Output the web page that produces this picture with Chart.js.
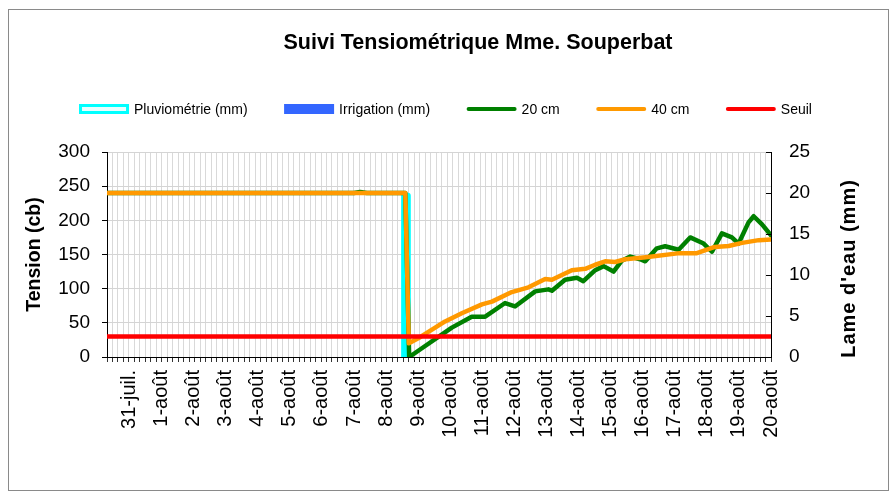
<!DOCTYPE html>
<html>
<head>
<meta charset="utf-8">
<script src="https://cdn.jsdelivr.net/npm/chart.js@4.4.1/dist/chart.umd.min.js"></script>
<style>
html,body{margin:0;padding:0;background:#fff;}
#wrap{width:895px;height:492px;position:relative;}
</style>
</head>
<body>
<div id="wrap"><canvas id="c"></canvas></div>
<script>
// ---------- data ----------
const chartTitle = 'Suivi Tensiométrique Mme. Souperbat';
const xLabels = ['31-juil.','1-août','2-août','3-août','4-août','5-août','6-août','7-août','8-août','9-août',
  '10-août','11-août','12-août','13-août','14-août','15-août','16-août','17-août','18-août','19-août','20-août'];
const xMinDay = -0.7;   // days relative to 31-juil.
const xMaxDay = 20;

const pluvioDays = [8.48];
const pluvioMm   = [20];

const irrigDays = [];
const irrigMm   = [];

const green20Days = [-0.7, 7.0, 7.19, 7.4, 8.6, 8.72, 9.06, 10.05, 10.67, 11.09, 11.71, 12.02, 12.65, 13.06, 13.17,
  13.58, 13.95, 14.15, 14.52, 14.78, 15.09, 15.35, 15.61, 15.92, 16.08, 16.44, 16.70, 17.12, 17.48, 17.90, 18.16,
  18.47, 18.78, 18.99, 19.30, 19.46, 19.72, 20.0];
const green20 = [240, 240, 241.5, 240, 240, 0, 11, 43, 59, 59, 79, 74, 96, 99, 97,
  113, 116, 111, 127, 133, 125, 141, 147, 143, 140, 159, 162, 157, 175, 166, 154,
  181, 175, 166, 197, 206, 194, 178];

const orange40Days = [-0.7, 8.6, 8.71, 9.06, 9.84, 10.36, 10.99, 11.30, 11.92, 12.44, 12.96, 13.17, 13.79, 14.21,
  14.52, 14.83, 15.14, 15.46, 16.10, 17.15, 17.69, 18.25, 18.68, 19.10, 19.62, 20.0];
const orange40 = [240, 240, 20, 29, 52, 64, 77, 81, 95, 102, 114, 113, 127, 129,
  135, 140, 139, 143, 146, 152, 152, 161, 162.5, 167, 171, 172];

const seuil = 30;

// ---------- helpers ----------
const FAM = '"Liberation Sans", Arial, Helvetica, sans-serif';
Chart.defaults.font.family = FAM;
Chart.defaults.color = '#000';
const pts = (xs, ys) => xs.map((x, i) => ({x: x, y: ys[i]}));

const framePlugin = {
  id: 'frame',
  beforeDraw(chart) {
    const ctx = chart.ctx;
    ctx.save();
    ctx.fillStyle = '#fff';
    ctx.fillRect(0, 0, chart.width, chart.height);
    ctx.strokeStyle = '#8a8a8a';
    ctx.lineWidth = 1;
    ctx.strokeRect(8.5, 9.5, 880, 481);
    ctx.restore();
  },
  afterDraw(chart) {
    const ctx = chart.ctx;
    ctx.save();
    ctx.font = 'bold 21.5px ' + FAM;
    ctx.fillStyle = '#000';
    ctx.textAlign = 'center';
    ctx.textBaseline = 'middle';
    ctx.fillText(chartTitle, 478, 43);
    ctx.restore();
  }
};

const rightAxisPlugin = {
  id: 'rightAxisExtras',
  afterDatasetsDraw(chart) {
    const s = chart.scales.y2;
    const ctx = chart.ctx;
    ctx.save();
    ctx.strokeStyle = '#000';
    ctx.lineWidth = 1;
    s.ticks.forEach((t, i) => {
      const py = Math.round(s.getPixelForTick(i)) + 0.5;
      ctx.beginPath();
      ctx.moveTo(s.left - 5, py);
      ctx.lineTo(s.left, py);
      ctx.stroke();
    });
    ctx.restore();
  },
  afterDraw(chart) {
    const ctx = chart.ctx;
    const a = chart.chartArea;
    ctx.save();
    ctx.translate(849, (a.top + a.bottom) / 2 + 14);
    ctx.rotate(-Math.PI / 2);
    ctx.font = 'bold 20px ' + FAM;
    if ('letterSpacing' in ctx) ctx.letterSpacing = '1px';
    ctx.fillStyle = '#000';
    ctx.textAlign = 'center';
    ctx.textBaseline = 'middle';
    ctx.fillText("Lame d'eau (mm)", 0, 0);
    ctx.restore();
  }
};

const legendPlugin = {
  id: 'excelLegend',
  afterDraw(chart) {
    const ctx = chart.ctx;
    const items = chart.data.datasets;
    const keyW = 50, gap = 5, pad = 36.5, y = 109;
    ctx.save();
    ctx.font = '14px ' + FAM;
    const widths = items.map(d => keyW + gap + ctx.measureText(d.label).width);
    const total = widths.reduce((a, b) => a + b, 0) + pad * (items.length - 1);
    let x = 445.5 - total / 2;
    items.forEach((d, i) => {
      if (d.type === 'bar') {
        ctx.fillStyle = d.legendFill || d.backgroundColor;
        ctx.fillRect(x, y - 5, keyW, 10);
        if (d.legendBorder) {
          ctx.strokeStyle = d.borderColor;
          ctx.lineWidth = 3;
          ctx.strokeRect(x + 1.5, y - 3.5, keyW - 3, 7);
        }
      } else {
        ctx.strokeStyle = d.borderColor;
        ctx.lineWidth = 4;
        ctx.lineCap = 'round';
        ctx.beginPath();
        ctx.moveTo(x + 2, y);
        ctx.lineTo(x + keyW - 2, y);
        ctx.stroke();
      }
      ctx.fillStyle = '#000';
      ctx.textAlign = 'left';
      ctx.textBaseline = 'middle';
      ctx.fillText(d.label, x + keyW + gap, y + 1);
      x += widths[i] + pad;
    });
    ctx.restore();
  }
};

new Chart(document.getElementById('c'), {
  type: 'line',
  data: {
    datasets: [
      { type: 'bar', label: 'Pluviométrie (mm)', data: pts(pluvioDays, pluvioMm), xAxisID: 'x', yAxisID: 'y2',
        backgroundColor: '#00FFFF', borderColor: '#00FFFF', borderWidth: 0,
        barThickness: 9, borderRadius: {topLeft: 3, topRight: 3}, order: 4,
        legendFill: '#E8FFFF', legendBorder: true },
      { type: 'bar', label: 'Irrigation (mm)', data: pts(irrigDays, irrigMm), xAxisID: 'x', yAxisID: 'y2',
        backgroundColor: '#3366FF', borderColor: '#3366FF', borderWidth: 0, barThickness: 8, order: 3 },
      { type: 'line', label: '20 cm', data: pts(green20Days, green20), xAxisID: 'x', yAxisID: 'y',
        borderColor: '#008000', backgroundColor: '#008000', borderWidth: 4.5, pointRadius: 0, tension: 0,
        borderJoinStyle: 'round', borderCapStyle: 'round', order: 2 },
      { type: 'line', label: '40 cm', data: pts(orange40Days, orange40), xAxisID: 'x', yAxisID: 'y',
        borderColor: '#FF9900', backgroundColor: '#FF9900', borderWidth: 4.5, pointRadius: 0, tension: 0,
        borderJoinStyle: 'round', borderCapStyle: 'round', order: 1 },
      { type: 'line', label: 'Seuil', data: [{x: xMinDay, y: seuil}, {x: xMaxDay, y: seuil}], xAxisID: 'x', yAxisID: 'y',
        borderColor: '#FF0000', backgroundColor: '#FF0000', borderWidth: 4.5, pointRadius: 0, order: 0 }
    ]
  },
  options: {
    responsive: true,
    maintainAspectRatio: false,
    animation: false,
    events: [],
    layout: { padding: { top: 152, left: 0, right: 0, bottom: 0 } },
    plugins: {
      legend: { display: false },
      tooltip: { enabled: false },
      title: { display: false }
    },
    scales: {
      xg: {
        type: 'linear', position: 'bottom', weight: 0, min: 0, max: 121, offset: false,
        ticks: { display: false },
        grid: { color: '#d9d9d9', tickColor: '#333', tickLength: 5, drawTicks: true },
        border: { color: '#000', width: 1 },
        afterBuildTicks: s => { const t = []; for (let i = 0; i <= 121; i++) t.push({value: i}); s.ticks = t; },
        afterFit: s => { s.height = 5; }
      },
      x: {
        type: 'linear', position: 'bottom', weight: 1, min: xMinDay, max: xMaxDay, offset: false,
        grid: { display: false, drawTicks: false },
        border: { display: false },
        ticks: {
          autoSkip: false, maxRotation: 90, minRotation: 90, padding: 8,
          font: { size: 20, family: FAM }, color: '#000',
          callback: (v, i) => xLabels[i]
        },
        afterBuildTicks: s => { s.ticks = xLabels.map((_, i) => ({value: i})); },
        afterFit: s => { s.height = 130; }
      },
      y: {
        type: 'linear', position: 'left', min: 0, max: 300,
        ticks: { stepSize: 50, font: { size: 19, family: FAM }, color: '#000', padding: 12 },
        grid: { color: '#d4d4d4', tickColor: '#000', tickLength: 5 },
        border: { color: '#000', width: 1 },
        title: { display: true, text: 'Tension (cb)', color: '#000',
          font: { size: 19.5, weight: 'bold', family: FAM }, padding: { top: 23, bottom: 0 } },
        afterFit: s => { s.width = 107; }
      },
      y2: {
        type: 'linear', position: 'right', min: 0, max: 25,
        ticks: { stepSize: 5, font: { size: 19, family: FAM }, color: '#000', padding: 18 },
        grid: { display: false, drawTicks: false, drawOnChartArea: false },
        border: { color: '#000', width: 1 },
        afterFit: s => { s.width = 124; }
      }
    }
  },
  plugins: [framePlugin, rightAxisPlugin, legendPlugin]
});
</script>
</body>
</html>
